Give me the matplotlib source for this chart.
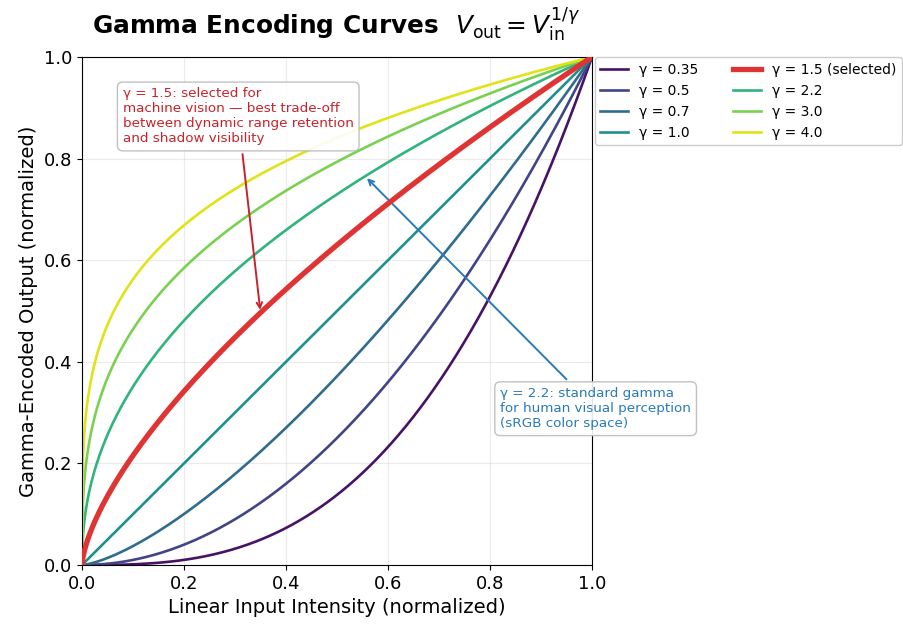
import matplotlib
matplotlib.use("Agg")
import matplotlib.pyplot as plt
import numpy as np

# gamma values plotted, 1.5 is the highlighted one
gammas = [0.35, 0.5, 0.7, 1.0, 1.5, 2.2, 3.0, 4.0]
selected_gamma = 1.5
x = np.linspace(0, 1, 500)

fig = plt.figure(figsize=(9.04, 6.26), dpi=100)
ax = fig.add_axes([82 / 904, 1 - 565 / 626, 510 / 904, 508 / 626])

others = [g for g in gammas if g != selected_gamma]
cmap_vals = dict(zip(others, plt.cm.viridis(np.linspace(0.05, 0.95, len(others)))))
handles = []
for g in gammas:
    if g == selected_gamma:
        h, = ax.plot(x, x ** (1 / g), color='#e03333', lw=3.8, label=f'γ = {g} (selected)', zorder=5)
    else:
        h, = ax.plot(x, x ** (1 / g), color=cmap_vals[g], lw=1.9, label=f'γ = {g}')
    handles.append(h)

ax.set_xlim(0, 1)
ax.set_ylim(0, 1)
ax.grid(True, alpha=0.25)
ax.tick_params(labelsize=13)
ax.set_xlabel('Linear Input Intensity (normalized)', fontsize=14)
ax.set_ylabel('Gamma-Encoded Output (normalized)', fontsize=14)

# legend sits to the right of the axes, two columns
ax.legend(handles=handles, ncol=2, fontsize=10, loc='upper left',
          bbox_to_anchor=(1.0, 1.005), borderaxespad=0.2, columnspacing=2.5,
          framealpha=1)

# annotations
ax.annotate('γ = 1.5: selected for\nmachine vision — best trade-off\nbetween dynamic range retention\nand shadow visibility',
            xy=(0.35, 0.35 ** (1 / 1.5)), xytext=(0.08, 0.94),
            fontsize=9.7, color='#c8232c', va='top', ha='left',
            bbox=dict(boxstyle='round,pad=0.4', fc='white', ec='#bbbbbb', alpha=0.9),
            arrowprops=dict(arrowstyle='->', color='#c8232c', lw=1.4))
ax.annotate('γ = 2.2: standard gamma\nfor human visual perception\n(sRGB color space)',
            xy=(0.555, 0.555 ** (1 / 2.2)), xytext=(0.82, 0.35),
            fontsize=9.7, color='#2a7ab9', va='top', ha='left',
            bbox=dict(boxstyle='round,pad=0.4', fc='white', ec='#bbbbbb', alpha=0.9),
            arrowprops=dict(arrowstyle='->', color='#2a7ab9', lw=1.4))

fig.text(92 / 904, 1 - 25 / 626, r'Gamma Encoding Curves  $V_{\mathrm{out}} = V_{\mathrm{in}}^{1/\gamma}$',
         fontsize=17.8, fontweight='bold', ha='left', va='center')

fig.savefig('out.png', dpi=100)
